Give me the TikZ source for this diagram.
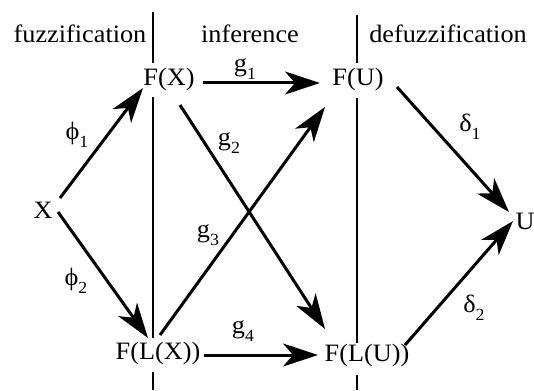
\documentclass[tikz,border=0pt]{standalone}
\usepackage{fontspec}
\setmainfont{Liberation Serif}[FakeStretch=1.05]
\usetikzlibrary{arrows.meta,calc}
\newcommand\lsub[1]{\raisebox{-0.3em}{\fontsize{17}{17}\selectfont #1}}
\begin{document}
\begin{tikzpicture}[x=1pt,y=-1pt,
  every node/.style={font=\fontsize{25}{30}\selectfont, inner sep=0pt},
  divider/.style={line width=2pt},
  map/.style={line width=3pt, -{Stealth[length=35pt,width=23pt,inset=10pt]}},
  lab/.style={inner sep=0pt}]
\useasboundingbox (0,0) rectangle (534,390);
% headers
\node[anchor=base] (h1) at (80,43) {fuzzification};
\node[anchor=base] (h2) at (250,43) {inference};
\node[anchor=base] (h3) at (448,43) {defuzzification};
% dividers
\draw[divider] (153,12) -- (153,63) (153,97) -- (153,338) (153,372) -- (153,390);
\draw[divider] (357,15) -- (357,63) (357,98) -- (357,343) (357,375) -- (357,390);
% nodes
\node (X) at (43,210) {X};
\node (FX) at (169,79) {F(X)};
\node (FU) at (358,79) {F(U)};
\node (FLX) at (158,353) {F(L(X))};
\node (FLU) at (367,355) {F(L(U))};
\node (U) at (525,221) {U};
% arrows
\draw[map] ($(X)+(17,-12)$) -- ($(FX)+(-26,9)$);
\draw[map] ($(X)+(15,2)$) -- ($(FLX)+(-10,-15)$);
\draw[map] ($(FX)+(34,4)$) -- ($(FU)+(-38,4)$);
\draw[map] ($(FX)+(11,26)$) -- ($(FLU)+(-42,-26)$);
\draw[map] ($(FLX)+(2,-18)$) -- ($(FU)+(-33,28)$);
\draw[map] ($(FLX)+(46,2)$) -- ($(FLU)+(-49,0)$);
\draw[map] ($(FU)+(39,8)$) -- ($(U)+(-16,-9)$);
\draw[map] ($(FLU)+(38,-10)$) -- ($(U)+(-12,0)$);
% labels
\node[lab] (l1) at (77,135) {ϕ\lsub{1}};
\node[lab] (l2) at (76,281) {ϕ\lsub{2}};
\node[lab] (l3) at (245,69) {g\lsub{1}};
\node[lab] (l4) at (229,143) {g\lsub{2}};
\node[lab] (l5) at (208,235) {g\lsub{3}};
\node[lab] (l6) at (243,331) {g\lsub{4}};
\node[lab] (l7) at (470,127) {δ\lsub{1}};
\node[lab] (l8) at (474,308) {δ\lsub{2}};
\end{tikzpicture}
\end{document}
